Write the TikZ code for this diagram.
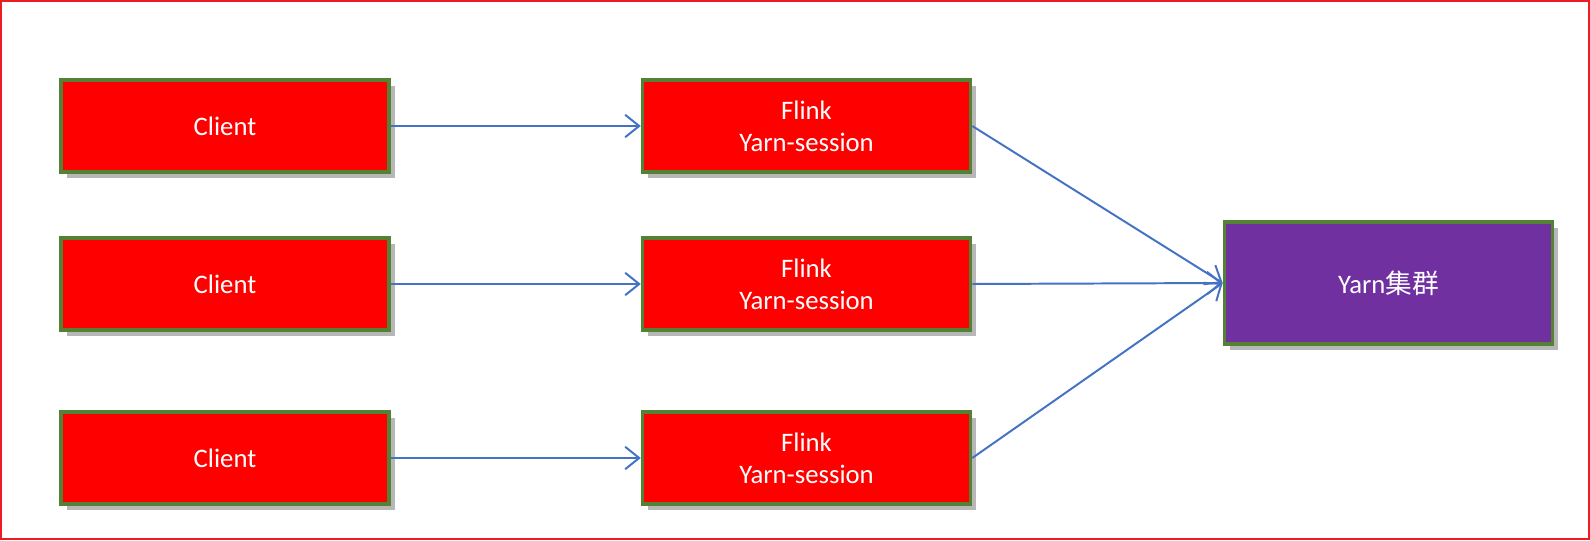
\documentclass[tikz,border=0pt]{standalone}
\usepackage{fontspec}
\setmainfont{Carlito}
\newfontfamily\cjk{Noto Sans CJK SC}
\usetikzlibrary{positioning,shadows,arrows.meta}
\definecolor{boxred}{HTML}{FF0000}
\definecolor{boxpurple}{HTML}{7030A0}
\definecolor{boxgreen}{HTML}{548235}
\definecolor{linkblue}{HTML}{4472C4}
\definecolor{framered}{HTML}{ED1C24}
\begin{document}
\begin{tikzpicture}[
        box/.style = {shape=rectangle, draw=boxgreen, line width=2.5pt,
          fill=boxred, text=white, align=center,
          minimum width=8.2cm, minimum height=2.3cm,
          font=\fontsize{19}{23}\selectfont,
          drop shadow={shadow xshift=4pt, shadow yshift=-4pt,
            opacity=0.4, fill=black!70}},
        link/.style = {draw=linkblue, line width=1.4pt,
          -{Straight Barb[length=10pt, width=16pt, line width=1.4pt]}}
        ]
        \useasboundingbox (0,0) rectangle (39.75,13.5);
        \draw[framered, line width=1.8pt] (0.03,0.03) rectangle (39.72,13.47);
        % clients
        \node[box] (client1) at (5.625,10.35) {Client};
        \node[box] (client2) at (5.625,6.4) {Client};
        \node[box] (client3) at (5.625,2.05) {Client};
        % sessions
        \node[box, right=6.25cm of client1] (flink1) {Flink\\Yarn-session};
        \node[box, right=6.25cm of client2] (flink2) {Flink\\Yarn-session};
        \node[box, right=6.25cm of client3] (flink3) {Flink\\Yarn-session};
        % cluster
        \node[box, fill=boxpurple, minimum height=3.05cm] (yarn) at (34.71,6.425) {Yarn{\cjk 集群}};
        \foreach \i in {1,2,3} {
            \draw[link] (client\i) -- (flink\i);
            \draw[link] (flink\i.east) -- (yarn.west);
        }
\end{tikzpicture}
\end{document}
